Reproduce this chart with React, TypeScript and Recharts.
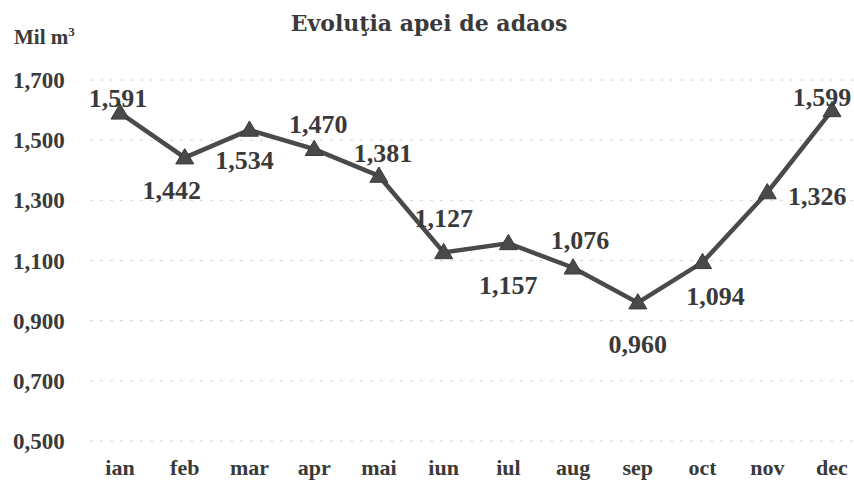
import React from 'react';
import { LineChart, Line, XAxis, YAxis, CartesianGrid } from 'recharts';

const months = ['ian', 'feb', 'mar', 'apr', 'mai', 'iun', 'iul', 'aug', 'sep', 'oct', 'nov', 'dec'];
const values = [1.591, 1.442, 1.534, 1.47, 1.381, 1.127, 1.157, 1.076, 0.96, 1.094, 1.326, 1.599];
const yTicks = [0.5, 0.7, 0.9, 1.1, 1.3, 1.5, 1.7];
// label offsets (dx, dy) relative to each point, in px — styling only
const labelOffsets: [number, number][] = [
  [-2, -6], [-13, 41], [-5, 39], [4, -16], [4, -14], [0, -25],
  [0, 51], [7, -19], [0, 50], [13, 43], [50, 12], [-10, -4],
];

const data = months.map((m, i) => ({ month: m, value: values[i] }));

const fmt = (v: number) => v.toFixed(3).replace('.', ',');
const FONT = '"Liberation Serif", "Times New Roman", serif';
const INK = '#3a3a3a';

const Triangle = (props: any) => {
  const { cx, cy } = props;
  if (cx == null || cy == null) return null;
  const s = 9;
  return (
    <polygon
      points={`${cx},${cy - s} ${cx - s},${cy + s * 0.7} ${cx + s},${cy + s * 0.7}`}
      fill="#4a4a4a"
      stroke="#3a3a3a"
      strokeWidth={1}
    />
  );
};

const ValueLabel = (props: any) => {
  const { x, y, value, index } = props;
  const [dx, dy] = labelOffsets[index] || [0, -15];
  return (
    <text
      x={x + dx}
      y={y + dy}
      textAnchor="middle"
      fontFamily={FONT}
      fontWeight="bold"
      fontSize={26}
      fill={INK}
    >
      {fmt(value)}
    </text>
  );
};

export default function App() {
  return (
    <div style={{ position: 'absolute', left: 0, top: 0, width: 854, height: 490, background: '#fff' }}>
      <LineChart width={854} height={490} data={data} margin={{ top: 80, right: 0, bottom: 0, left: 0 }}>
        <text x={429} y={31} textAnchor="middle" fontFamily='"DejaVu Serif", serif' fontWeight="bold" fontSize={22} fill={INK}>
          Evoluţia apei de adaos
        </text>
        <text x={14} y={44} fontFamily={FONT} fontWeight="bold" fontSize={21} fill={INK}>
          Mil m<tspan dy={-8} fontSize={13}>3</tspan>
        </text>
        <CartesianGrid vertical={false} stroke="#d2d2d2" strokeDasharray="3 7" />
        <XAxis
          dataKey="month"
          axisLine={false}
          tickLine={false}
          height={49}
          tickMargin={12}
          padding={{ left: 30, right: 22 }}
          tick={{ fontFamily: FONT, fontWeight: 'bold', fontSize: 22, fill: INK }}
        />
        <YAxis
          domain={[0.5, 1.7]}
          ticks={yTicks}
          axisLine={false}
          tickLine={false}
          width={90}
          interval={0}
          tickFormatter={fmt}
          tick={{ fontFamily: FONT, fontWeight: 'bold', fontSize: 23, fill: INK, textAnchor: 'start', dx: -69 }}
        />
        <Line
          type="linear"
          dataKey="value"
          stroke="#4a4a4a"
          strokeWidth={4.5}
          dot={<Triangle />}
          activeDot={false}
          isAnimationActive={false}
          label={<ValueLabel />}
        />
      </LineChart>
    </div>
  );
}
